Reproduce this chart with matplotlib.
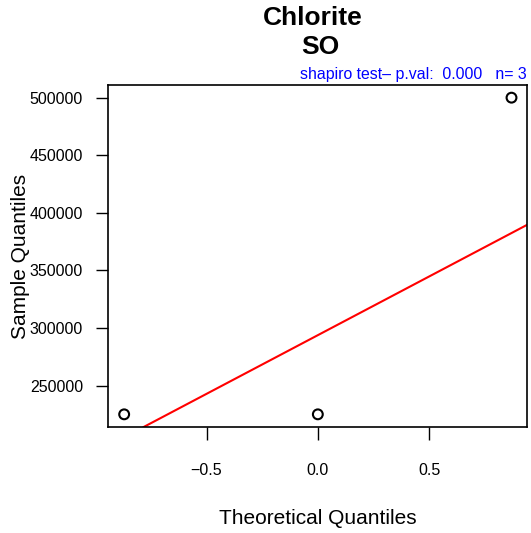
import numpy as np
import matplotlib.pyplot as plt

plt.rcParams['font.family'] = ['Liberation Sans', 'DejaVu Sans']

# normal Q-Q data for Chlorite, site SO
theoretical = [-0.87, 0.0, 0.87]
sample = [225000, 225000, 500000]
x_ticks = [-0.5, 0.0, 0.5]
y_ticks = [250000, 300000, 350000, 400000, 450000, 500000]
pval = 0.000

# reference line through the quartiles
q1, q3 = np.percentile(sample, [25, 75])
z = 0.6745
slope = (q3 - q1) / (2 * z)
intercept = (q1 + q3) / 2

fig = plt.figure(figsize=(5.31, 5.33), dpi=100)
ax = fig.add_axes([108 / 531, 106 / 533, 419 / 531, 342 / 533])

ax.scatter(theoretical, sample, s=50, facecolors='none', edgecolors='black',
           linewidths=1.5, zorder=3)
ax.axline((0, intercept), slope=slope, color='red', lw=1.5)

xr = max(theoretical) - min(theoretical)
yr = max(sample) - min(sample)
ax.set_xlim(min(theoretical) - 0.04 * xr - 0.003, max(theoretical) + 0.04 * xr)
ax.set_ylim(min(sample) - 0.04 * yr, max(sample) + 0.04 * yr)

ax.set_xticks(x_ticks)
ax.set_xticklabels(['\u22120.5', '0.0', '0.5'])
ax.set_yticks(y_ticks)
ax.set_yticklabels([str(v) for v in y_ticks])
ax.tick_params(length=9, width=1, labelsize=11.5, pad=9, color='black')
ax.tick_params(axis='x', pad=17)
for s in ax.spines.values():
    s.set_linewidth(1.2)

ax.set_xlabel('Theoretical Quantiles', fontsize=15, labelpad=22)
ax.set_ylabel('Sample Quantiles', fontsize=15, labelpad=0)

fig.text(313 / 531, 1 - 18 / 533, 'Chlorite', ha='center', va='center',
         fontsize=19, fontweight='bold')
fig.text(320.5 / 531, 1 - 47 / 533, 'SO', ha='center', va='center',
         fontsize=19, fontweight='bold')
fig.text(527 / 531, 1 - 79 / 533,
         'shapiro test\u2013 p.val:  %.3f   n= %d' % (pval, len(sample)),
         ha='right', va='baseline', fontsize=11.4, color='blue')

fig.savefig('out.png', dpi=100)
